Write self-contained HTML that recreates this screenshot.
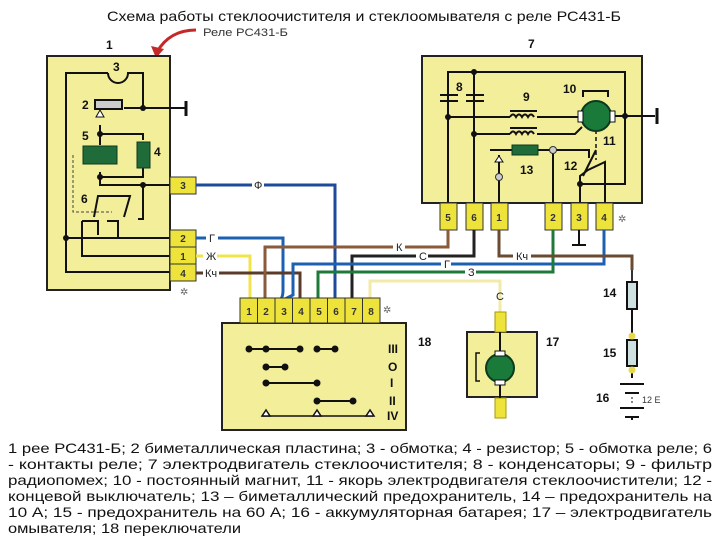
<!DOCTYPE html>
<html><head><meta charset="utf-8"><style>
html,body{margin:0;padding:0;background:#fff;}
svg{display:block;font-family:"Liberation Sans","DejaVu Sans",sans-serif;}
.n{font-weight:bold;font-size:12px;fill:#111;}
.t{font-size:10px;font-weight:bold;fill:#333;}
.w{font-size:11px;fill:#222;}
.bg{fill:#fff;}
</style></head><body>
<svg width="720" height="540" viewBox="0 0 720 540" xmlns="http://www.w3.org/2000/svg">
<text x="364" y="21" text-anchor="middle" font-size="14" fill="#111" textLength="514" lengthAdjust="spacingAndGlyphs">Схема работы стеклоочистителя и стеклоомывателя с реле РС431-Б</text>
<text x="203" y="36" font-size="11" fill="#333" textLength="85" lengthAdjust="spacingAndGlyphs">Реле РС431-Б</text>
<path d="M196 30 C178 30 165 38 157 52" stroke="#c62828" stroke-width="3" fill="none"/>
<path d="M151 46 L156 58 L164 49 Z" fill="#c62828"/>

<text class="n" x="106" y="49">1</text>
<rect x="47" y="56" width="123" height="234" fill="#f3ee9a" stroke="#222" stroke-width="2"/>
<g stroke="#111" stroke-width="2" fill="none">
<path d="M108 73 L66 73 L66 272 L172 272"/>
<path d="M108 73 A10 10 0 0 0 128 73 L143 73 L143 108"/>
<path d="M124 108 L186 108"/>
<path d="M186 101 L186 116" stroke-width="3"/>
<path d="M100 125 L100 134 L143 134 L143 140"/>
<path d="M100 134 L100 145"/><path d="M100 172 L100 177 L143 177 L143 168"/>
<path d="M100 177 L100 185 L172 185"/>
<path d="M143 185 L143 219 L138 219"/>
<path d="M66 238 L172 238"/>
<path d="M82 221 L82 256 L172 256"/>
<path d="M82 221 L98 221 L98 235"/>
<path d="M107 221 L118 221 L118 238"/>
<path d="M94 217 L98 196 L130 196 L124 217"/>
</g>
<path d="M73 155 L73 212 L112 212" stroke="#444" stroke-dasharray="3,2" fill="none"/>
<rect x="95" y="100" width="27" height="9" fill="#ccc" stroke="#111" stroke-width="2"/>
<path d="M100 110 L96 117 L104 117 Z" fill="#fff" stroke="#111"/>
<rect x="83" y="146" width="34" height="18" fill="#1f6b3a" stroke="#0c3a1e"/>
<rect x="137" y="142" width="13" height="26" fill="#1f6b3a" stroke="#0c3a1e"/>
<g fill="#111"><circle cx="143" cy="108" r="3"/><circle cx="100" cy="134" r="3"/><circle cx="100" cy="177" r="3"/><circle cx="143" cy="185" r="3"/><circle cx="66" cy="238" r="3"/></g>
<text class="n" x="113" y="71">3</text><text class="n" x="82" y="109">2</text><text class="n" x="82" y="140">5</text><text class="n" x="154" y="156">4</text><text class="n" x="81" y="203">6</text>
<g stroke="#333" fill="#eee33a"><rect x="170" y="177" width="26" height="17"/><rect x="170" y="230" width="26" height="17"/><rect x="170" y="247" width="26" height="17"/><rect x="170" y="264" width="26" height="17"/></g>
<g class="t" text-anchor="middle"><text x="183" y="189">3</text><text x="183" y="242">2</text><text x="183" y="260">1</text><text x="183" y="277">4</text></g>
<text x="180" y="295" font-size="10" fill="#666">✲</text>

<text class="n" x="528" y="48">7</text>
<rect x="422" y="56" width="220" height="147" fill="#f3ee9a" stroke="#222" stroke-width="2"/>
<g stroke="#111" stroke-width="2" fill="none">
<path d="M448 203 L448 72 L625 72 L625 116"/>
<path d="M474 203 L474 72"/>
<path d="M440 95 L458 95 M440 101 L458 101 M466 95 L484 95 M466 101 L484 101"/>
<path d="M448 117 L510 117 M537 117 L578 117"/>
<path d="M474 134 L510 134 M537 134 L575 134 L582 127"/>
<path d="M510 111 L537 111 M510 128 L537 128"/>
<path d="M510 117 q3 -5 6 0 q3 -5 6 0 q3 -5 6 0 q3 -5 6 0 M510 134 q3 -5 6 0 q3 -5 6 0 q3 -5 6 0 q3 -5 6 0"/>
<path d="M610 116 L655 116"/><path d="M657 108 L657 124" stroke-width="3"/>
<path d="M625 116 L625 184 L580 184 L580 203"/>
<path d="M490 150 L512 150 M538 150 L589 150 L589 158"/>
<path d="M553 150 L553 203"/>
<path d="M499 155 L499 203"/>
<path d="M580 184 L580 176 L588 170 L605 162 L605 203"/>
<path d="M583 176 L596 150"/>
<path d="M583 97 L583 91 L608 91 L608 97"/>
</g>
<path d="M596 130 L596 160" stroke="#111" stroke-dasharray="4,3" stroke-width="1.5"/>
<circle cx="596" cy="116" r="15" fill="#1a7a3a" stroke="#0c3a1e" stroke-width="2"/>
<rect x="578" y="111" width="5" height="11" fill="#fff" stroke="#111"/><rect x="610" y="111" width="5" height="11" fill="#fff" stroke="#111"/>
<rect x="512" y="145" width="26" height="10" fill="#1f6b3a" stroke="#0c3a1e"/>
<path d="M499 156 L495 162 L503 162 Z" fill="#fff" stroke="#111"/>
<circle cx="499" cy="177" r="3.5" fill="#ccc" stroke="#333"/><circle cx="553" cy="150" r="3.5" fill="#ccc" stroke="#333"/>
<g fill="#111"><circle cx="474" cy="72" r="3"/><circle cx="448" cy="117" r="3"/><circle cx="474" cy="134" r="3"/><circle cx="625" cy="116" r="3"/><circle cx="580" cy="184" r="3"/></g>
<text class="n" x="456" y="91">8</text><text class="n" x="523" y="101">9</text><text class="n" x="563" y="93">10</text><text class="n" x="603" y="145">11</text><text class="n" x="564" y="170">12</text><text class="n" x="520" y="174">13</text>
<g stroke="#333" fill="#eee33a"><rect x="440" y="203" width="17" height="27"/><rect x="466" y="203" width="17" height="27"/><rect x="491" y="203" width="17" height="27"/><rect x="545" y="203" width="17" height="27"/><rect x="571" y="203" width="17" height="27"/><rect x="596" y="203" width="17" height="27"/></g>
<g class="t" text-anchor="middle"><text x="448" y="221">5</text><text x="474" y="221">6</text><text x="499" y="221">1</text><text x="553" y="221">2</text><text x="579" y="221">3</text><text x="604" y="221">4</text></g>
<path d="M579 230 L579 245 M572 245 L586 245" stroke="#111" stroke-width="2"/>
<text x="618" y="222" font-size="10" fill="#666">✲</text>

<g fill="none" stroke-width="3">
<path d="M196 185 L335 185 L335 300" stroke="#1d4a9a"/>
<path d="M196 238 L283 238 L283 290 Q283 300 278 300" stroke="#1d5fb0"/>
<path d="M196 256 L250 256 L250 300" stroke="#f0e44a"/>
<path d="M196 273 L300 273 L300 300" stroke="#5a3a28"/>
<path d="M448 230 L448 247 L265 247 L265 300" stroke="#8a5a3a"/>
<path d="M474 230 L474 256 L352 256 L352 300" stroke="#222"/>
<path d="M604 230 L604 264 L293 264 L293 295 L283 300" stroke="#1d5fb0"/>
<path d="M553 230 L553 272 L318 272 L318 300" stroke="#1e7a3a"/>
<path d="M499 230 L499 256 L632 256 L632 270" stroke="#6b4a32"/>
<path d="M500 312 L500 281 L370 281 L370 300" stroke="#f2eaa8"/>
<path d="M632 270 L632 284" stroke="#333" stroke-width="2"/>
</g>
<g class="bg"><rect x="206" y="232" width="12" height="12"/><rect x="203" y="250" width="14" height="12"/><rect x="203" y="267" width="16" height="12"/><rect x="252" y="179" width="12" height="12"/><rect x="393" y="241" width="12" height="12"/><rect x="416" y="250" width="12" height="12"/><rect x="441" y="258" width="10" height="12"/><rect x="465" y="266" width="11" height="12"/><rect x="513" y="250" width="18" height="12"/></g>
<g class="w" font-size="11"><text x="209" y="242">Г</text>
<text x="206" y="260">Ж</text><text x="205" y="277">Кч</text><text x="254" y="189">Ф</text>
<text x="396" y="251">К</text><text x="419" y="260">С</text><text x="444" y="268">Г</text><text x="468" y="276">З</text><text x="516" y="260">Кч</text><text x="496" y="300">С</text></g>

<rect x="222" y="323" width="184" height="107" fill="#f3ee9a" stroke="#222" stroke-width="2"/>
<g stroke="#333" fill="#eee33a"><rect x="240" y="298" width="17.5" height="25"/><rect x="257.5" y="298" width="17.5" height="25"/><rect x="275" y="298" width="17.5" height="25"/><rect x="292.5" y="298" width="17.5" height="25"/><rect x="310" y="298" width="17.5" height="25"/><rect x="327.5" y="298" width="17.5" height="25"/><rect x="345" y="298" width="17.5" height="25"/><rect x="362.5" y="298" width="17.5" height="25"/></g>
<g class="t" text-anchor="middle"><text x="249" y="315">1</text><text x="266" y="315">2</text><text x="284" y="315">3</text><text x="301" y="315">4</text><text x="319" y="315">5</text><text x="336" y="315">6</text><text x="354" y="315">7</text><text x="371" y="315">8</text></g>
<text x="383" y="313" font-size="10" fill="#666">✲</text>
<g stroke="#111" stroke-width="2" fill="#111">
<path d="M249 349 L300 349 M317 349 L335 349 M266 367 L285 367 M266 383 L317 383 M317 401 L353 401"/>
<circle cx="249" cy="349" r="2.5"/><circle cx="266" cy="349" r="2.5"/><circle cx="300" cy="349" r="2.5"/><circle cx="317" cy="349" r="2.5"/><circle cx="335" cy="349" r="2.5"/>
<circle cx="266" cy="367" r="2.5"/><circle cx="285" cy="367" r="2.5"/><circle cx="266" cy="383" r="2.5"/><circle cx="317" cy="383" r="2.5"/><circle cx="317" cy="401" r="2.5"/><circle cx="353" cy="401" r="2.5"/>
</g>
<path d="M262 416 L373 416" stroke="#111" stroke-width="1.5"/>
<g fill="#fff" stroke="#111" stroke-width="1.5"><path d="M266 410 L262 416 L270 416 Z"/><path d="M317 410 L313 416 L321 416 Z"/><path d="M370 410 L366 416 L374 416 Z"/></g>
<g class="n" font-size="11"><text x="388" y="353">III</text><text x="388" y="371">O</text><text x="390" y="387">I</text><text x="389" y="405">II</text><text x="387" y="420">IV</text></g>
<text class="n" x="418" y="346">18</text>

<rect x="467" y="332" width="70" height="65" fill="#f3ee9a" stroke="#222" stroke-width="2"/>
<rect x="495" y="312" width="11" height="20" fill="#eee33a" stroke="#a90"/>
<rect x="495" y="398" width="11" height="20" fill="#eee33a" stroke="#a90"/>
<path d="M500 332 L500 355 M500 381 L500 398" stroke="#111" stroke-width="2"/>
<path d="M480 353 L476 353 L476 381 L480 381" stroke="#111" fill="none" stroke-width="1.5"/>
<circle cx="500" cy="368" r="14" fill="#1a7a3a" stroke="#0c3a1e" stroke-width="2"/>
<rect x="495" y="351" width="10" height="5" fill="#fff" stroke="#111"/><rect x="495" y="380" width="10" height="5" fill="#fff" stroke="#111"/>
<text class="n" x="546" y="346">17</text>

<path d="M632 284 L632 420" stroke="#111" stroke-width="2"/>
<rect x="627" y="282" width="10" height="27" fill="#cfe0e0" stroke="#111" stroke-width="2"/>
<rect x="627" y="340" width="10" height="26" fill="#cfe0e0" stroke="#111" stroke-width="2"/>
<circle cx="632" cy="336" r="3.5" fill="#e8d84a"/><circle cx="632" cy="370" r="3.5" fill="#e8d84a"/>
<rect x="620" y="378" width="24" height="40" fill="#fff"/>
<path d="M620 384 L644 384 M625 393 L639 393 M620 408 L644 408 M625 417 L639 417" stroke="#111" stroke-width="2"/>
<path d="M632 397 L632 404" stroke="#111" stroke-dasharray="2,2"/>
<text class="n" x="603" y="297">14</text><text class="n" x="603" y="357">15</text><text class="n" x="596" y="402">16</text>
<text x="642" y="403" font-size="9" fill="#333">12 Е</text>

<g font-size="14" fill="#111">
<text x="8" y="453" textLength="704" lengthAdjust="spacingAndGlyphs">1 рее РС431-Б; 2 биметаллическая пластина; 3 - обмотка; 4 - резистор; 5 - обмотка реле; 6</text>
<text x="8" y="469" textLength="704" lengthAdjust="spacingAndGlyphs">- контакты  реле;  7  электродвигатель  стеклоочистителя;  8  -  конденсаторы;  9  -  фильтр</text>
<text x="8" y="485" textLength="704" lengthAdjust="spacingAndGlyphs">радиопомех; 10 - постоянный магнит, 11 - якорь электродвигателя стеклоочистители; 12 -</text>
<text x="8" y="501" textLength="704" lengthAdjust="spacingAndGlyphs">концевой выключатель; 13 – биметаллический предохранитель, 14 – предохранитель на</text>
<text x="8" y="517" textLength="704" lengthAdjust="spacingAndGlyphs">10 А; 15 - предохранитель на 60 А; 16 - аккумуляторная батарея; 17 – электродвигатель</text>
<text x="8" y="533" textLength="233" lengthAdjust="spacingAndGlyphs">омывателя; 18 переключатели</text>
</g>
</svg>
</body></html>
